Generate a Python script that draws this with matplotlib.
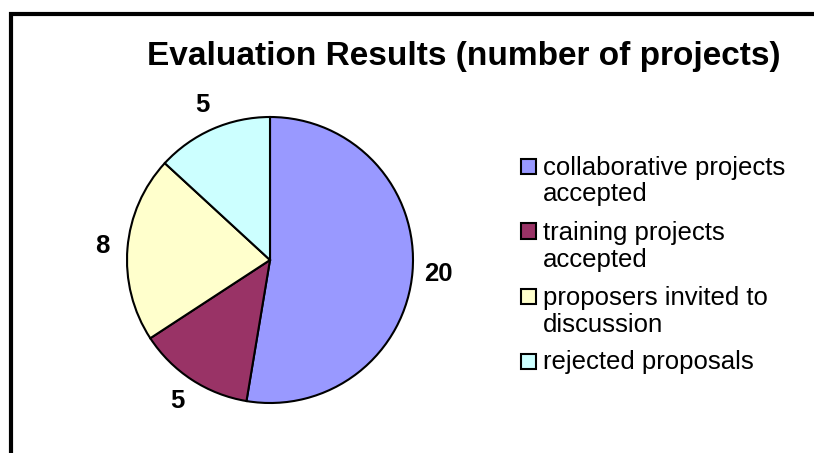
import matplotlib
matplotlib.use("Agg")
import matplotlib.pyplot as plt
from matplotlib.patches import Rectangle

plt.rcParams['font.family'] = ['Liberation Sans', 'DejaVu Sans']

categories = [['collaborative projects', 'accepted'], ['training projects', 'accepted'],
              ['proposers invited to', 'discussion'], ['rejected proposals']]
values = [20, 5, 8, 5]
colors = ['#9999FF', '#993366', '#FFFFCC', '#CCFFFF']

W, H = 814, 453
fig = plt.figure(figsize=(W / 100, H / 100), dpi=100)

# pie: centre (270, 260) px, radius 143 px
cx, cy, r = 270, 260, 143
ax = fig.add_axes([(cx - r) / W, (H - cy - r) / H, 2 * r / W, 2 * r / H])
wedges, texts = ax.pie(values, labels=[str(v) for v in values], colors=colors,
                       startangle=90, counterclock=False, labeldistance=1.18,
                       wedgeprops=dict(edgecolor='black', linewidth=1.5),
                       textprops=dict(fontsize=18.5, fontweight='bold'))
for t in texts:
    t.set_ha('center')
    t.set_va('center')
ax.set_xlim(-1, 1)
ax.set_ylim(-1, 1)
ax.set_aspect('equal')

fig.text(464 / W, 1 - 56 / H, 'Evaluation Results (number of projects)',
         ha='center', va='center', fontsize=24, fontweight='bold')

# legend drawn by hand so the box sits on the first text line
px = lambda x, y: (x / W, 1 - y / H)
y0 = 166
for lines, c in zip(categories, colors):
    fig.add_artist(Rectangle(px(521, y0 + 7.5), 15 / W, 15 / H,
                             transform=fig.transFigure, facecolor=c,
                             edgecolor='black', linewidth=1.5))
    for k, line in enumerate(lines):
        fig.text(*px(543, y0 + 8.5 + 27 * k), line, ha='left', va='baseline',
                 fontsize=18.5)
    y0 += 65

# outer frame (clipped at right and bottom)
fig.add_artist(Rectangle((10.5 / W, -0.1), 1.0, (H - 13.5) / H + 0.1,
                         transform=fig.transFigure, fill=False,
                         edgecolor='black', linewidth=3))

fig.savefig('out.png', dpi=100)
